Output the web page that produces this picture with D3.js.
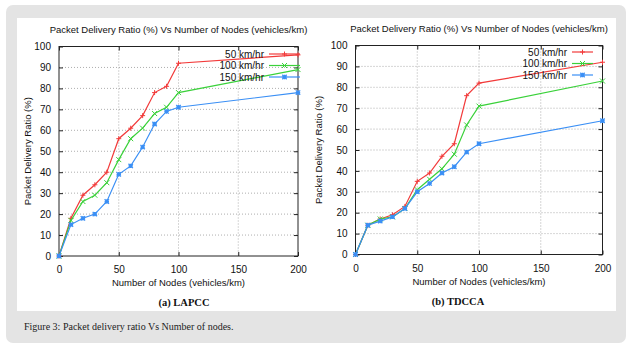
<!DOCTYPE html>
<html>
<head>
<meta charset="utf-8">
<script src="https://cdn.jsdelivr.net/npm/d3@7"></script>
<style>
  html, body { margin: 0; padding: 0; background: #fff; }
  svg { display: block; }
</style>
</head>
<body>
<div id="chart"></div>
<script>
const nodes = [0, 10, 20, 30, 40, 50, 60, 70, 80, 90, 100, 200];
const speeds = ["50 km/hr", "100 km/hr", "150 km/hr"];

// LAPCC
const lapcc50 = [0, 18, 29, 34, 40, 56, 61, 67, 78, 81, 92, 96];
const lapcc100 = [0, 17, 26, 29, 35, 46, 56, 61, 68, 71, 78, 89];
const lapcc150 = [0, 15, 18, 20, 26, 39, 43, 52, 63, 69, 71, 78];

// TDCCA
const tdcca50 = [0, 14, 17, 19, 23, 35, 39, 47, 53, 76, 82, 92];
const tdcca100 = [0, 14, 17, 18, 22, 31, 36, 41, 48, 62, 71, 83];
const tdcca150 = [0, 14, 16, 18, 22, 30, 34, 39, 42, 49, 53, 64];

const xTicks = [0, 50, 100, 150, 200];
const yTicks = [0, 10, 20, 30, 40, 50, 60, 70, 80, 90, 100];

const W = 634, H = 352;
const svg = d3.select("#chart").append("svg")
    .attr("width", W)
    .attr("height", H);

// frame
svg.append("rect").attr("x", 6).attr("y", 5).attr("width", 620).attr("height", 338)
    .attr("rx", 7).attr("fill", "#e4e4e4");
svg.append("rect").attr("x", 17).attr("y", 18).attr("width", 599).attr("height", 293)
    .attr("fill", "#fff");

const color = d3.scaleOrdinal().domain(speeds).range(["#f23a3a", "#3ad13a", "#3a8ff5"]);
const markers = { "50 km/hr": "plus", "100 km/hr": "cross", "150 km/hr": "star" };

function marker(g, type, x, y, c) {
    const s = type === "star" ? 2.2 : 2.5;
    const p = d3.path();
    if (type === "plus" || type === "star") {
        p.moveTo(x - s, y); p.lineTo(x + s, y);
        p.moveTo(x, y - s); p.lineTo(x, y + s);
    }
    if (type === "cross" || type === "star") {
        p.moveTo(x - s, y - s); p.lineTo(x + s, y + s);
        p.moveTo(x - s, y + s); p.lineTo(x + s, y - s);
    }
    g.append("path").attr("d", p.toString()).attr("stroke", c)
        .attr("stroke-width", type === "star" ? 1.3 : 1).attr("fill", "none");
}

function renderPlot(opts) {
    const { left, right, top, bottom, series, title, sub, labelX } = opts;
    const x = d3.scaleLinear().domain([0, 200]).range([left, right]);
    const y = d3.scaleLinear().domain([0, 100]).range([bottom, top]);
    const g = svg.append("g");

    // grid
    g.append("g").selectAll("line.gy").data(yTicks.slice(1, -1)).join("line")
        .attr("x1", left).attr("x2", right)
        .attr("y1", d => y(d)).attr("y2", d => y(d))
        .attr("stroke", "#999").attr("stroke-width", 0.8).attr("stroke-dasharray", "1,2");
    g.append("g").selectAll("line.gx").data(xTicks.slice(1, -1)).join("line")
        .attr("y1", top).attr("y2", bottom)
        .attr("x1", d => x(d)).attr("x2", d => x(d))
        .attr("stroke", "#999").attr("stroke-width", 0.8).attr("stroke-dasharray", "1,2");

    // axes
    g.append("g").attr("transform", `translate(0,${bottom})`)
        .call(d3.axisBottom(x).tickValues(xTicks).tickSizeInner(-4).tickSizeOuter(0).tickPadding(10));
    g.append("g").attr("transform", `translate(${left},0)`)
        .call(d3.axisLeft(y).tickValues(yTicks).tickSizeInner(-4).tickSizeOuter(0).tickPadding(8));
    g.append("g").attr("transform", `translate(0,${top})`)
        .call(d3.axisTop(x).tickValues(xTicks).tickSizeInner(-4).tickSizeOuter(0).tickFormat(""));
    g.append("g").attr("transform", `translate(${right},0)`)
        .call(d3.axisRight(y).tickValues(yTicks).tickSizeInner(-4).tickSizeOuter(0).tickFormat(""));
    g.selectAll(".domain").remove();
    g.selectAll(".tick text").attr("font-family", "Liberation Sans, Arial, sans-serif")
        .attr("font-size", 10).attr("fill", "#111");
    g.selectAll(".tick line").attr("stroke", "#222");
    g.append("rect").attr("x", left).attr("y", top).attr("width", right - left).attr("height", bottom - top)
        .attr("fill", "none").attr("stroke", "#222").attr("stroke-width", 1);

    // lines
    const line = d3.line().x(d => x(d[0])).y(d => y(d[1]));
    series.forEach((vals, i) => {
        const key = speeds[i];
        const pts = nodes.map((n, j) => [n, vals[j]]);
        g.append("path").datum(pts).attr("d", line).attr("fill", "none")
            .attr("stroke", color(key)).attr("stroke-width", 1.2);
        pts.forEach(p => marker(g, markers[key], x(p[0]), y(p[1]), color(key)));
    });

    // legend
    speeds.forEach((key, i) => {
        const ly = opts.legendY + i * 11.5;
        g.append("text").attr("x", opts.legendX).attr("y", ly + 3.5).attr("text-anchor", "end")
            .attr("font-family", "Liberation Sans, Arial, sans-serif").attr("font-size", 10)
            .attr("fill", "#111").text(key);
        g.append("line").attr("x1", opts.legendX + 5).attr("x2", opts.legendX + opts.legendLen)
            .attr("y1", ly).attr("y2", ly).attr("stroke", color(key)).attr("stroke-width", 1.2);
        marker(g, markers[key], opts.legendX + 5 + (opts.legendLen - 5) / 2, ly, color(key));
    });

    const cx = (left + right) / 2;
    g.append("text").attr("x", cx).attr("y", top - 14).attr("text-anchor", "middle")
        .attr("font-family", "Liberation Sans, Arial, sans-serif").attr("font-size", 9.5)
        .attr("fill", "#111").text(title);
    g.append("text").attr("x", cx).attr("y", bottom + 30).attr("text-anchor", "middle")
        .attr("font-family", "Liberation Sans, Arial, sans-serif").attr("font-size", 9.5)
        .attr("fill", "#111").text("Number of Nodes (vehicles/km)");
    g.append("text").attr("transform", `translate(${labelX},${(top + bottom) / 2}) rotate(-90)`)
        .attr("text-anchor", "middle").attr("dy", "0.35em")
        .attr("font-family", "Liberation Sans, Arial, sans-serif").attr("font-size", 9.5)
        .attr("fill", "#111").text("Packet Delivery Ratio (%)");
    g.append("text").attr("x", opts.subX).attr("y", bottom + 50).attr("text-anchor", "middle")
        .attr("font-family", "Liberation Serif, DejaVu Serif, serif").attr("font-size", 10.5)
        .attr("font-weight", "bold").attr("fill", "#111").text(sub);
}

renderPlot({
    left: 59, right: 298, top: 46.5, bottom: 256,
    series: [lapcc50, lapcc100, lapcc150],
    title: "Packet Delivery Ratio (%) Vs Number of Nodes (vehicles/km)",
    sub: "(a) LAPCC", subX: 184, labelX: 28,
    legendX: 264, legendY: 54, legendLen: 36
});

renderPlot({
    left: 355.5, right: 602.5, top: 45.5, bottom: 254.5,
    series: [tdcca50, tdcca100, tdcca150],
    title: "Packet Delivery Ratio (%) Vs Number of Nodes (vehicles/km)",
    sub: "(b) TDCCA", subX: 458, labelX: 319,
    legendX: 567, legendY: 52, legendLen: 26
});

svg.append("text").attr("x", 24).attr("y", 330)
    .attr("font-family", "Liberation Serif, DejaVu Serif, serif").attr("font-size", 10)
    .attr("fill", "#222").text("Figure 3: Packet delivery ratio Vs Number of nodes.");
</script>
</body>
</html>
